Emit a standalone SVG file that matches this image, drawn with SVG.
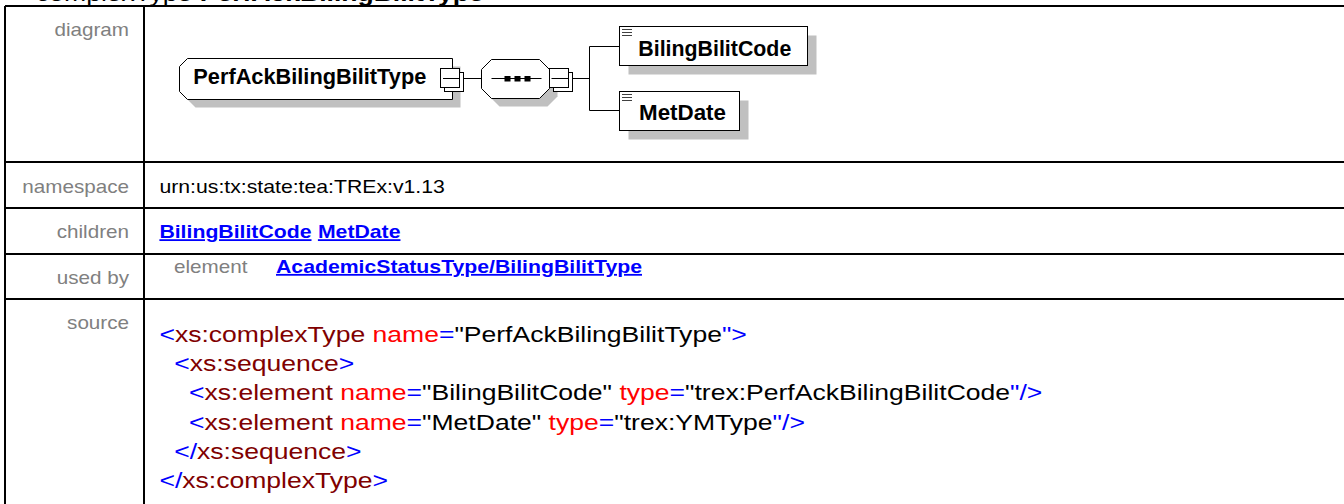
<svg xmlns="http://www.w3.org/2000/svg" width="1344" height="504" viewBox="0 0 1344 504">
<style>
text{font-family:"Liberation Sans",Arial,sans-serif}
.ttl{font-size:22.5px;fill:#000}
.lbl{font-size:17.5px;fill:#808080;text-anchor:end}
.gry{font-size:17.5px;fill:#808080}
.body{font-size:18px;fill:#000}
.link{font-size:18px;font-weight:bold;fill:#0000FF;text-decoration:underline}
.src{font-size:22.5px}
.p{fill:#0000FF}.e{fill:#800000}.a{fill:#FF0000}.v{fill:#000}
.grid{stroke:#000;stroke-width:2;fill:none}
.shadow{fill:#C0C0C0;stroke:none}
.box{fill:#fff;stroke:#000;stroke-width:1}
.conn{stroke:#000;stroke-width:1;fill:none}
.ntxt{font-size:21.5px;font-weight:bold;fill:#000}
.icon{stroke:#404040;stroke-width:1}
</style>
<rect width="1344" height="504" fill="#fff"/>
<text class="ttl" transform="translate(36 1) scale(1.18 1)">complexType <tspan font-weight="bold">PerfAckBilingBilitType</tspan></text>
<g id="table">
<path class="grid" d="M5 6H1344M5 162H1344M5 208H1344M5 254H1344M5 299H1344M5 6V504M144 6V504"/>
<text class="lbl" transform="translate(129 36) scale(1.18 1)">diagram</text>
<text class="lbl" transform="translate(129 192.7) scale(1.18 1)">namespace</text>
<text class="lbl" transform="translate(129 238.3) scale(1.18 1)">children</text>
<text class="lbl" transform="translate(129 283.5) scale(1.18 1)">used by</text>
<text class="lbl" transform="translate(129 329) scale(1.18 1)">source</text>
<text class="body" transform="translate(159.4 192.7) scale(1.18 1)">urn:us:tx:state:tea:TREx:v1.13</text>
<text class="link" transform="translate(159.4 238.3) scale(1.18 1)">BilingBilitCode</text>
<text class="link" transform="translate(317.9 238.3) scale(1.18 1)">MetDate</text>
<text class="gry" transform="translate(174 273) scale(1.18 1)">element</text>
<text class="link" transform="translate(276 273) scale(1.18 1)">AcademicStatusType/BilingBilitType</text>
<text class="src" transform="translate(159.4 342) scale(1.18 1)"><tspan class="p">&lt;</tspan><tspan class="e">xs:complexType</tspan><tspan class="a"> name</tspan><tspan class="p">=</tspan><tspan class="v">"PerfAckBilingBilitType</tspan><tspan class="p">"&gt;</tspan></text>
<text class="src" transform="translate(174.2 371.2) scale(1.18 1)"><tspan class="p">&lt;</tspan><tspan class="e">xs:sequence</tspan><tspan class="p">&gt;</tspan></text>
<text class="src" transform="translate(189 400.4) scale(1.18 1)"><tspan class="p">&lt;</tspan><tspan class="e">xs:element</tspan><tspan class="a"> name</tspan><tspan class="p">=</tspan><tspan class="v">"BilingBilitCode"</tspan><tspan class="a"> type</tspan><tspan class="p">=</tspan><tspan class="v">"trex:PerfAckBilingBilitCode</tspan><tspan class="p">"/&gt;</tspan></text>
<text class="src" transform="translate(189 429.6) scale(1.18 1)"><tspan class="p">&lt;</tspan><tspan class="e">xs:element</tspan><tspan class="a"> name</tspan><tspan class="p">=</tspan><tspan class="v">"MetDate"</tspan><tspan class="a"> type</tspan><tspan class="p">=</tspan><tspan class="v">"trex:YMType</tspan><tspan class="p">"/&gt;</tspan></text>
<text class="src" transform="translate(174.2 458.8) scale(1.18 1)"><tspan class="p">&lt;/</tspan><tspan class="e">xs:sequence</tspan><tspan class="p">&gt;</tspan></text>
<text class="src" transform="translate(159.4 488) scale(1.18 1)"><tspan class="p">&lt;/</tspan><tspan class="e">xs:complexType</tspan><tspan class="p">&gt;</tspan></text>
</g>
<g id="connectors">
<path class="conn" d="M463.5 78.5H481.5M572.5 78.5H589.5M589.5 46.5V110.5M589.5 46.5H619.5M589.5 110.5H619.5"/>
</g>
<g id="node-PerfAckBilingBilitType">
<polygon class="shadow" points="187.5,74.5 195.5,66.5 460.5,66.5 460.5,107.5 195.5,107.5 187.5,99.5"/>
<polygon class="box" points="179.5,66.5 187.5,58.5 452.5,58.5 452.5,99.5 187.5,99.5 179.5,91.5"/>
<text class="ntxt" x="193.3" y="84" textLength="233" lengthAdjust="spacingAndGlyphs">PerfAckBilingBilitType</text>
<rect class="box" x="444.5" y="72.5" width="19" height="19"/>
<rect class="box" x="440.5" y="68.5" width="19" height="19"/>
<path class="conn" d="M443 78.5H459.5"/>
</g>
<g id="node-sequence">
<polygon class="shadow" points="489.5,77.5 499.5,67.5 547.5,67.5 557.5,77.5 557.5,96.5 547.5,106.5 499.5,106.5 489.5,96.5"/>
<polygon class="box" points="481.5,69.5 491.5,59.5 539.5,59.5 549.5,69.5 549.5,88.5 539.5,98.5 491.5,98.5 481.5,88.5"/>
<path class="conn" d="M491.5 78.5H541.5"/>
<rect x="504.5" y="76" width="6" height="5.5" fill="#000"/>
<rect x="514.5" y="76" width="6" height="5.5" fill="#000"/>
<rect x="524.5" y="76" width="6" height="5.5" fill="#000"/>
<rect class="box" x="553.5" y="72.5" width="19" height="19"/>
<rect class="box" x="549.5" y="68.5" width="19" height="19"/>
<path class="conn" d="M551.5 78.5H568.5"/>
</g>
<g id="node-BilingBilitCode">
<rect class="shadow" x="628.5" y="35.5" width="188" height="39"/>
<rect class="box" x="619.5" y="26.5" width="188" height="39"/>
<path class="icon" d="M622 29.5H632M622 32.5H632M622 35.5H632"/>
<text class="ntxt" x="638.3" y="56" textLength="153" lengthAdjust="spacingAndGlyphs">BilingBilitCode</text>
</g>
<g id="node-MetDate">
<rect class="shadow" x="628.5" y="100.5" width="120" height="39"/>
<rect class="box" x="619.5" y="91.5" width="120" height="39"/>
<path class="icon" d="M622 94.5H632M622 97.5H632M622 100.5H632"/>
<text class="ntxt" x="639" y="120" textLength="87" lengthAdjust="spacingAndGlyphs">MetDate</text>
</g>
</svg>
